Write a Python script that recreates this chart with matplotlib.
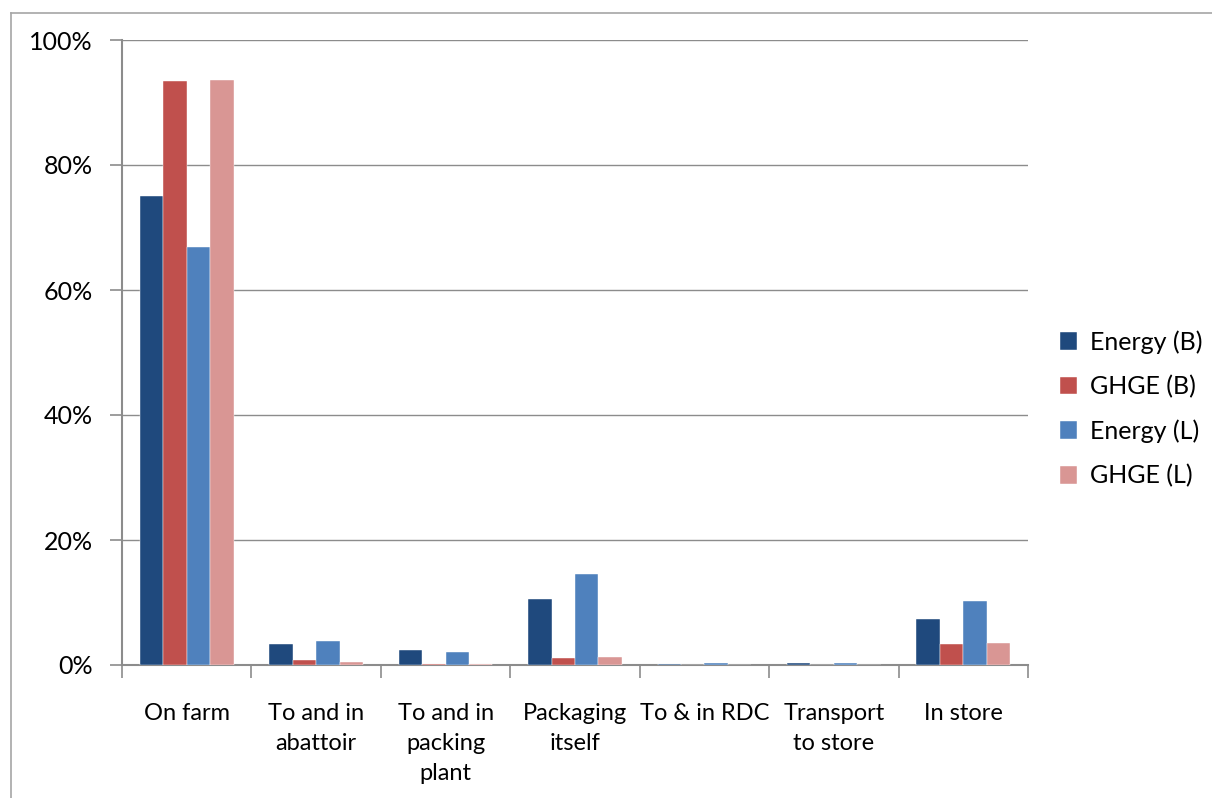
import numpy as np
import matplotlib
matplotlib.use('Agg')
import matplotlib.pyplot as plt
from matplotlib.lines import Line2D
from matplotlib.ticker import FixedLocator, NullFormatter

# stages of the supply chain
etapas = ['On farm', 'To and in\nabattoir', 'To and in\npacking\nplant', 'Packaging\nitself',
          'To & in RDC', 'Transport\nto store', 'In store']

# share of the total (%) for each stage
energiaB = [75.0, 3.3, 2.35, 10.5, 0.15, 0.3, 7.3]
ghgeB = [93.4, 0.75, 0.2, 1.1, 0.05, 0.05, 3.35]
energiaL = [66.9, 3.9, 2.1, 14.5, 0.3, 0.3, 10.3]
ghgeL = [93.6, 0.5, 0.15, 1.35, 0.05, 0.05, 3.5]

series = ['Energy (B)', 'GHGE (B)', 'Energy (L)', 'GHGE (L)']
colores = ['#1F497D', '#C0504D', '#4F81BD', '#D99694']

plt.rcParams['font.family'] = ['Lato', 'DejaVu Sans']

fig = plt.figure(figsize=(12.12, 7.98), dpi=100)
ax = fig.add_axes([122/1212, 133/798, 906/1212, 625/798])

x = np.arange(len(etapas))
ancho = 0.181
datos = [energiaB, ghgeB, energiaL, ghgeL]
for i in range(0, 4):
	ax.bar(x + (i - 1.5)*ancho, datos[i], ancho, color=colores[i], label=series[i],
	       edgecolor='white', linewidth=0.3, zorder=5)

ax.set_xlim(-0.5, len(etapas) - 0.5)
ax.set_ylim(0, 100)
ax.set_yticks([0, 20, 40, 60, 80, 100])
ax.set_yticklabels(['0%', '20%', '40%', '60%', '80%', '100%'])
ax.yaxis.grid(True, color='#8C8C8C', linewidth=1.0, zorder=0)

# category labels centred, tick marks between categories
ax.set_xticks(x)
ax.set_xticklabels(etapas, linespacing=1.55)
ax.tick_params(axis='x', which='major', length=0, pad=27, labelsize=17)
ax.xaxis.set_minor_locator(FixedLocator(np.arange(-0.5, len(etapas), 1.0)))
ax.xaxis.set_minor_formatter(NullFormatter())
ax.tick_params(axis='x', which='minor', length=9, width=1.2, color='#8C8C8C')
ax.tick_params(axis='y', length=9, width=1.2, color='#8C8C8C', pad=12, labelsize=18)

for lado in ['top', 'right']:
	ax.spines[lado].set_visible(False)
for lado in ['left', 'bottom']:
	ax.spines[lado].set_color('#8C8C8C')
	ax.spines[lado].set_linewidth(1.5)
ax.spines['left'].set_zorder(4)
ax.spines['bottom'].set_zorder(4)

ax.legend(loc='center left', bbox_to_anchor=(1.01, 0.41), frameon=False, fontsize=18,
          handlelength=0.7, handleheight=0.7, handletextpad=0.5, labelspacing=0.85)

# chart frame
fig.add_artist(Line2D([11/1212, 1.0], [1 - 13/798, 1 - 13/798], color='#A6A6A6', linewidth=1.2))
fig.add_artist(Line2D([11/1212, 11/1212], [0.0, 1 - 13/798], color='#A6A6A6', linewidth=1.2))

plt.savefig('out.png', dpi=100)
